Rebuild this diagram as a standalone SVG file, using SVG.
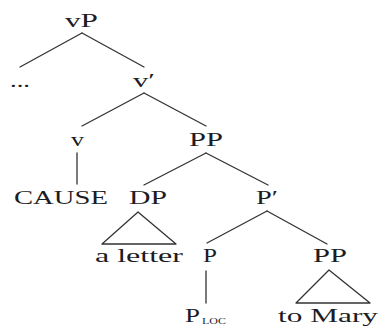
<svg xmlns="http://www.w3.org/2000/svg" width="383" height="326" viewBox="0 0 383 326">
<style>
text{font-family:"Liberation Serif","Times New Roman",serif;font-size:19px;fill:#1c1c24;}
.e{stroke:#333;stroke-width:1.3;fill:none;stroke-linecap:round;stroke-linejoin:round;}
.sub{font-size:9px;}
</style>
<rect width="383" height="326" fill="#fff"/>
<g id="connectors">
<line class="e" x1="82" y1="33" x2="20" y2="67"/>
<line class="e" x1="82" y1="33" x2="144" y2="67"/>
<line class="e" x1="144" y1="93" x2="82" y2="126"/>
<line class="e" x1="144" y1="93" x2="206" y2="126"/>
<line class="e" x1="77" y1="153" x2="77" y2="184"/>
<line class="e" x1="206" y1="153" x2="144" y2="185"/>
<line class="e" x1="206" y1="153" x2="268" y2="185"/>
<polygon class="e" points="138,212 102,244 176,244"/>
<line class="e" x1="267" y1="211" x2="207" y2="243"/>
<line class="e" x1="267" y1="211" x2="327" y2="244"/>
<line class="e" x1="206" y1="271" x2="206" y2="303"/>
<polygon class="e" points="329,270 296,303 370,303"/>
</g>
<g id="vP"><text x="65" y="27" textLength="33" lengthAdjust="spacingAndGlyphs">vP</text></g>
<g id="dots"><text x="10" y="87" textLength="20" lengthAdjust="spacingAndGlyphs">...</text></g>
<g id="vbar"><text x="133" y="87" textLength="22" lengthAdjust="spacingAndGlyphs">v′</text></g>
<g id="v"><text x="71" y="146" textLength="13" lengthAdjust="spacingAndGlyphs">v</text></g>
<g id="PP1"><text x="189" y="146" textLength="34" lengthAdjust="spacingAndGlyphs">PP</text></g>
<g id="CAUSE"><text x="14" y="204" textLength="94" lengthAdjust="spacingAndGlyphs">CAUSE</text></g>
<g id="DP"><text x="129" y="204" textLength="38" lengthAdjust="spacingAndGlyphs">DP</text></g>
<g id="Pbar"><text x="256" y="204" textLength="22" lengthAdjust="spacingAndGlyphs">P′</text></g>
<g id="aletter"><text x="95" y="262" textLength="88" lengthAdjust="spacingAndGlyphs">a letter</text></g>
<g id="P"><text x="203" y="262" textLength="14" lengthAdjust="spacingAndGlyphs">P</text></g>
<g id="PP2"><text x="313" y="262" textLength="34" lengthAdjust="spacingAndGlyphs">PP</text></g>
<g id="PLOC"><text x="185" y="322" textLength="15" lengthAdjust="spacingAndGlyphs">P</text><text class="sub" x="202" y="324" textLength="24" lengthAdjust="spacingAndGlyphs">LOC</text></g>
<g id="toMary"><text x="278" y="322" textLength="100" lengthAdjust="spacingAndGlyphs">to Mary</text></g>
</svg>
